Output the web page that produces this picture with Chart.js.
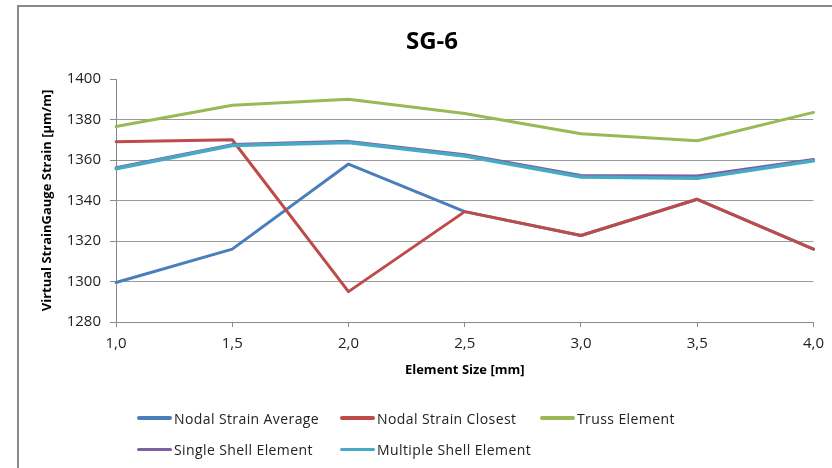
<!DOCTYPE html>
<html>
<head>
<meta charset="utf-8">
<script src="https://cdn.jsdelivr.net/npm/chart.js@4/dist/chart.umd.min.js"></script>
<style>
  html, body { margin: 0; padding: 0; background: #fff; overflow: hidden; }
  #wrap { position: relative; width: 832px; height: 468px; overflow: hidden; font-family: "Open Sans", sans-serif; background: #fff; }
  #frameTop { position: absolute; left: 17px; top: 5px; width: 815px; height: 2px; background: #8a8a8a; }
  #frameLeft { position: absolute; left: 17px; top: 5px; width: 2px; height: 463px; background: #8a8a8a; }
  #chart { position: absolute; left: 0; top: 0; }
  #title { position: absolute; left: 332px; width: 200px; top: 22px; text-align: center;
           font-weight: bold; font-size: 24px; line-height: 36px; color: #000; }
  .lg { position: absolute; display: flex; align-items: center; font-size: 14px; letter-spacing: 0.4px;
        color: #222; white-space: nowrap; }
  .lg i { display: inline-block; width: 35px; margin-right: 2px; border-radius: 2px; }
</style>
</head>
<body>
<div id="wrap">
  <div id="frameTop"></div>
  <div id="frameLeft"></div>
  <canvas id="chart" width="832" height="468"></canvas>
  <div id="title">SG-6</div>
  <div id="legend"></div>
</div>
<script>
// Element sizes along the x axis
const elementSizes = ['1,0', '1,5', '2,0', '2,5', '3,0', '3,5', '4,0'];

// Virtual strain gauge readings (µm/m) per modelling approach
const nodalStrainAverage  = [1299.5, 1316, 1358, 1334.5, 1322.7, 1340.6, 1316];
const nodalStrainClosest  = [1369, 1370, 1295, 1334.5, 1322.7, 1340.6, 1316];
const trussElement        = [1376.5, 1387, 1390, 1383, 1373, 1369.5, 1383.5];
const singleShellElement  = [1356.2, 1367.6, 1369.2, 1362.6, 1352.4, 1352.1, 1360.2];
const multipleShellElement = [1355.7, 1367.2, 1368.6, 1362, 1351.6, 1351, 1359.6];

// Y axis range
const yMin = 1280, yMax = 1400, yStep = 20;

const series = [
  { label: 'Nodal Strain Average',  data: nodalStrainAverage,   color: '#4a7ebb', width: 3,   lw: 4 },
  { label: 'Nodal Strain Closest',  data: nodalStrainClosest,   color: '#be4b48', width: 3,   lw: 4 },
  { label: 'Truss Element',         data: trussElement,         color: '#98b954', width: 3,   lw: 4 },
  { label: 'Single Shell Element',  data: singleShellElement,   color: '#7d60a0', width: 3,   lw: 3 },
  { label: 'Multiple Shell Element', data: multipleShellElement, color: '#46aac5', width: 3.5, lw: 3 }
];

const n = series.length;
const datasets = series.map((s, i) => ({
  label: s.label,
  data: s.data,
  borderColor: s.color,
  backgroundColor: s.color,
  borderWidth: s.width,
  pointRadius: 0,
  tension: 0,
  fill: false,
  borderJoinStyle: 'round',
  borderCapStyle: 'round',
  order: n - i   // later series painted over earlier ones
}));

const tickFont = { family: 'Open Sans', size: 15 };
const titleFont = { family: 'Open Sans', size: 13, weight: 'bold' };

new Chart(document.getElementById('chart'), {
  type: 'line',
  data: { labels: elementSizes, datasets },
  options: {
    responsive: false,
    animation: false,
    events: [],
    layout: { padding: { left: 36, right: 14, top: 79, bottom: 86 } },
    plugins: { legend: { display: false }, title: { display: false }, tooltip: { enabled: false } },
    scales: {
      x: {
        type: 'category',
        offset: false,
        afterFit: (s) => { s.height = 60; },
        border: { display: true, color: '#8a8a8a', width: 1 },
        grid: { drawOnChartArea: false, drawTicks: true, tickLength: 5, color: '#8a8a8a' },
        ticks: { font: tickFont, color: '#222', padding: 8, maxRotation: 0 },
        title: { display: true, text: 'Element Size [mm]', font: titleFont, color: '#000',
                 padding: { top: 0, bottom: 4 } }
      },
      y: {
        min: yMin, max: yMax,
        afterFit: (s) => { s.width = 80; },
        border: { display: true, color: '#8a8a8a', width: 1 },
        grid: {
          tickLength: 6,
          color: (ctx) => (ctx.tick && ctx.tick.value === yMax) ? 'rgba(0,0,0,0)' : '#9a9a9a',
          tickColor: '#8a8a8a'
        },
        ticks: { stepSize: yStep, font: tickFont, color: '#222', padding: 9,
                 callback: (v) => String(v) },
        title: { display: true, text: 'Virtual StrainGauge Strain [µm/m]', font: titleFont, color: '#000',
                 padding: { top: 3, bottom: 0 } }
      }
    }
  }
});

// Legend laid out in a 3-column grid below the plot
const legendEl = document.getElementById('legend');
const colX = [137, 340, 540];
const rowY = [418, 449];
series.forEach((s, i) => {
  const item = document.createElement('div');
  item.className = 'lg';
  item.style.left = colX[i % 3] + 'px';
  item.style.top = (rowY[Math.floor(i / 3)] - 10) + 'px';
  item.style.height = '20px';
  const sw = document.createElement('i');
  sw.style.height = s.lw + 'px';
  sw.style.background = s.color;
  item.appendChild(sw);
  item.appendChild(document.createTextNode(s.label));
  legendEl.appendChild(item);
});
</script>
</body>
</html>
